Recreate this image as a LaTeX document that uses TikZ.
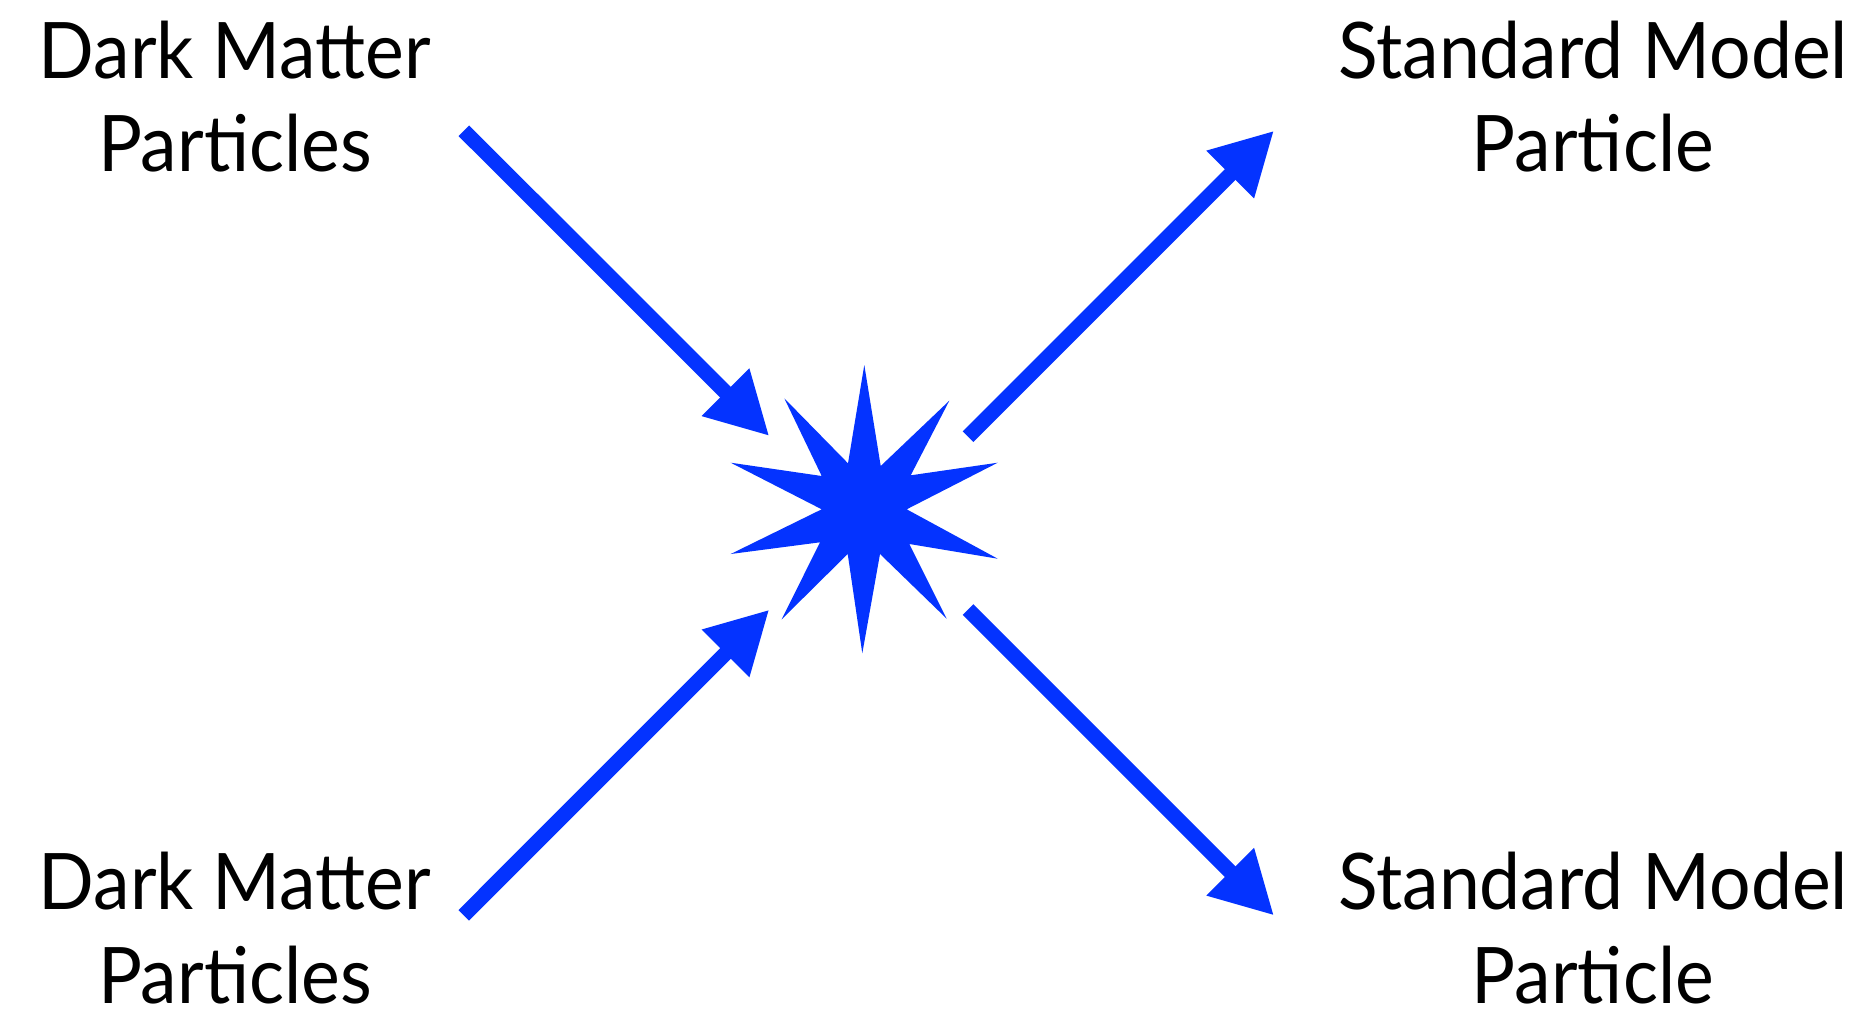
\documentclass[tikz,border=0pt]{standalone}
\usepackage{fontspec}
\setmainfont[FakeStretch=0.94]{Lato}
\usetikzlibrary{arrows.meta}
\definecolor{kblue}{RGB}{4,51,255}
\tikzset{
  lbl/.style={align=center, inner sep=0pt, anchor=base, font=\fontsize{78}{93.3}\selectfont, text=black},
  flow/.style={draw=kblue, line width=15pt, line cap=butt, -{Triangle[length=62pt,width=63pt]}},
}
\begin{document}
\begin{tikzpicture}[x=1pt,y=-1pt]
\useasboundingbox (0,0) rectangle (1864,1013);
% labels (base anchor = last line's baseline)
\node[lbl] (dm1) at (235,171.7) {Dark Matter\\Particles};
\node[lbl] (dm2) at (235,1003) {Dark Matter\\Particles};
\node[lbl] (sm1) at (1593,171.7) {Standard Model\\Particle};
\node[lbl] (sm2) at (1593,1003) {Standard Model\\Particle};
% star
\node[inner sep=0pt, minimum size=1pt] (star) at (864,509) {};
\fill[kblue] (864.3,365) -- (880.7,466) -- (949.3,400.7) -- (910.7,475.3) -- (997.7,462.7)
  -- (906.7,509.3) -- (997.7,558.7) -- (909.3,544) -- (946.7,618.7) -- (880,554)
  -- (862.3,653.3) -- (847.7,554) -- (781.7,619.3) -- (820,542.3) -- (730.7,554)
  -- (821.7,509.3) -- (730.7,462.7) -- (821.7,476) -- (784.3,398.3) -- (848,463.3) -- cycle;
% arrow endpoints
\coordinate (a1s) at (463.8,130.7);
\coordinate (a1e) at (769.3,436);
\coordinate (a2s) at (463.8,915.3);
\coordinate (a2e) at (769.3,609.6);
\coordinate (a3s) at (968,436.7);
\coordinate (a3e) at (1274,130.7);
\coordinate (a4s) at (968,609.5);
\coordinate (a4e) at (1274,915.5);
\draw[flow] (a1s) -- (a1e);
\draw[flow] (a2s) -- (a2e);
\draw[flow] (a3s) -- (a3e);
\draw[flow] (a4s) -- (a4e);
\end{tikzpicture}
\end{document}
